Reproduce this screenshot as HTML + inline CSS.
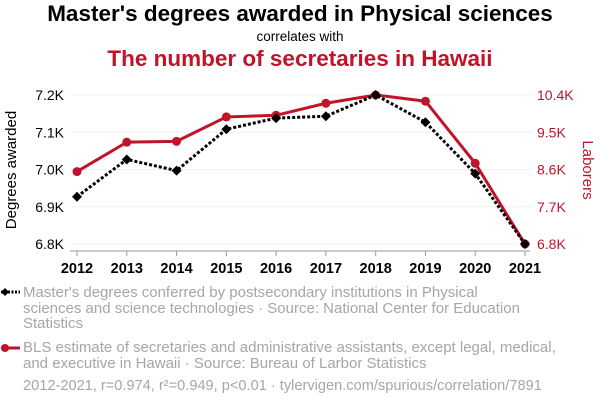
<!DOCTYPE html>
<html><head><meta charset="utf-8"><style>
body{margin:0;background:#fff;font-family:"Liberation Sans",sans-serif;}
#wrap{position:relative;width:600px;height:408px;overflow:hidden;}
.t{position:absolute;left:0;width:600px;text-align:center;}
.leg{position:absolute;left:23px;width:532px;font-size:15px;color:#a6a6a6;line-height:15.5px;}
</style></head><body>
<div id="wrap">
<div class="t" style="top:1px;font-size:22.5px;font-weight:bold;color:#000">Master's degrees awarded in Physical sciences</div>
<div class="t" style="top:29px;font-size:13.5px;color:#000">correlates with</div>
<div class="t" style="top:46px;font-size:22.5px;font-weight:bold;color:#c0142b">The number of secretaries in Hawaii</div>
<svg id="svg" width="600" height="280" style="position:absolute;left:0;top:0"></svg>
<svg width="20" height="10" style="position:absolute;left:0;top:287px"><line x1="1" y1="5" x2="20" y2="5" stroke="#000" stroke-width="3" stroke-dasharray="2,1.5"/><path d="M5 1 L9 5 L5 9 L1 5Z" fill="#000"/></svg>
<div class="leg" style="top:285px;width:500px">Master's degrees conferred by postsecondary institutions in Physical sciences and science technologies · Source: National Center for Education Statistics</div>
<svg width="20" height="10" style="position:absolute;left:0;top:343px"><line x1="1" y1="5" x2="20" y2="5" stroke="#c0142b" stroke-width="3"/><circle cx="5" cy="5" r="4" fill="#c0142b"/></svg>
<div class="leg" style="top:340px;width:545px">BLS estimate of secretaries and administrative assistants, except legal, medical, and executive in Hawaii · Source: Bureau of Larbor Statistics</div>
<div class="leg" style="top:379px;width:580px;font-size:14.6px">2012-2021, r=0.974, r²=0.949, p&lt;0.01 · tylervigen.com/spurious/correlation/7891</div>
</div>
<script>
const years=[2012,2013,2014,2015,2016,2017,2018,2019,2020,2021];
const degrees=[6.927,7.027,6.997,7.108,7.138,7.143,7.2,7.127,6.989,6.8];
const secretaries=[8.55,9.26,9.28,9.87,9.91,10.2,10.4,10.25,8.75,6.8];
const leftTicks=[6.8,6.9,7.0,7.1,7.2];
const leftLabels=["6.8K","6.9K","7.0K","7.1K","7.2K"];
const rightTicks=[6.8,7.7,8.6,9.5,10.4];
const rightLabels=["6.8K","7.7K","8.6K","9.5K","10.4K"];
const svg=document.getElementById('svg');const NS='http://www.w3.org/2000/svg';
const x=i=>77+(525-77)*(i-years[0])/(years[years.length-1]-years[0]);
const yl=v=>244-(v-6.8)/(7.2-6.8)*(244-95);
const yr=v=>244-(v-6.8)/(10.4-6.8)*(244-95);
function mk(t,a){const e=document.createElementNS(NS,t);for(const k in a)e.setAttribute(k,a[k]);svg.appendChild(e);return e;}
leftTicks.forEach((v,i)=>{const g=mk('line',{x1:70,x2:532,y1:yl(v),y2:yl(v),stroke:'#f0f0f0'});


const t=mk('text',{x:64,y:yl(v)+5,'text-anchor':'end','font-size':14,fill:'#000'});t.textContent=leftLabels[i];

});
rightTicks.forEach((v,i)=>{const t=mk('text',{x:537,y:yr(v)+5,'font-size':14,fill:'#c0142b'});t.textContent=rightLabels[i];

});
const ax=mk('line',{x1:70,x2:530,y1:251,y2:251,stroke:'#999'});


years.forEach(yv=>{mk('line',{x1:x(yv),x2:x(yv),y1:251,y2:256,stroke:'#999'});
const t=mk('text',{x:x(yv),y:273,'text-anchor':'middle','font-size':14.5,'font-weight':'bold',fill:'#000'});t.textContent=yv;

});
const yt=mk('text',{x:0,y:0,'font-size':15,fill:'#000','text-anchor':'middle',transform:'translate(16,170) rotate(-90)'});yt.textContent='Degrees awarded';


const yt2=mk('text',{x:0,y:0,'font-size':15,fill:'#c0142b','text-anchor':'middle',transform:'translate(583,170) rotate(90)'});yt2.textContent='Laborers';


const rl=mk('polyline',{points:years.map((yv,i)=>x(yv)+','+yr(secretaries[i])).join(' '),fill:'none',stroke:'#c0142b','stroke-width':3});


years.forEach((yv,i)=>{const c=mk('circle',{cx:x(yv),cy:yr(secretaries[i]),r:4.5,fill:'#c0142b'});

});
const bl=mk('polyline',{points:years.map((yv,i)=>x(yv)+','+yl(degrees[i])).join(' '),fill:'none',stroke:'#000','stroke-width':3,'stroke-dasharray':'3,2'});


years.forEach((yv,i)=>{const cx=x(yv),cy=yl(degrees[i]);const p=mk('path',{d:`M${cx} ${cy-5}L${cx+5} ${cy}L${cx} ${cy+5}L${cx-5} ${cy}Z`,fill:'#000'});

});
</script>
</body></html>
